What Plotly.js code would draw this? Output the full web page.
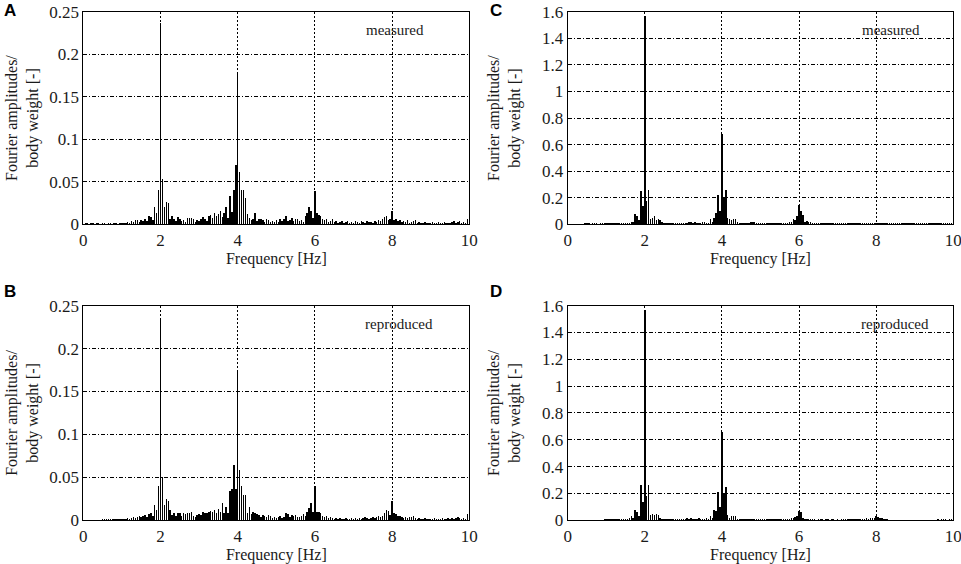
<!DOCTYPE html>
<html>
<head>
<meta charset="utf-8">
<script src="https://cdn.plot.ly/plotly-3.0.1.min.js"></script>
<style>html,body{margin:0;padding:0;background:#fff;}#chart{width:961px;height:564px;}</style>
</head>
<body>
<div id="chart"></div>
<script>
// Frequency bins: 0 .. 10 Hz, spacing FREQ_STEP (one value per bin, 201 bins)
const FREQ_STEP = 0.05;

// Panel A - measured (amplitude / body weight)
const measuredA = [
  0.001,0.002,0.002,0.001,0.002,0.002,0.001,0.002,0.002,0.001,0.002,0.002,0.001,0.002,0.002,0.001,0.002,0.002,0.001,0.002,
  0.002,0.002,0.002,0.003,0.002,0.004,0.003,0.005,0.005,0.003,0.005,0.004,0.007,0.004,0.010,0.009,0.005,0.020,0.013,0.041,
  0.237,0.053,0.020,0.026,0.025,0.007,0.010,0.006,0.004,0.009,0.007,0.004,0.005,0.003,0.008,0.008,0.008,0.006,0.003,0.005,
  0.004,0.007,0.009,0.006,0.004,0.010,0.011,0.008,0.013,0.010,0.012,0.016,0.009,0.013,0.021,0.008,0.034,0.015,0.041,0.070,
  0.177,0.062,0.041,0.040,0.031,0.012,0.008,0.005,0.007,0.013,0.004,0.007,0.006,0.005,0.003,0.006,0.005,0.003,0.004,0.003,
  0.005,0.003,0.006,0.004,0.006,0.010,0.004,0.005,0.008,0.004,0.007,0.007,0.004,0.005,0.003,0.010,0.014,0.021,0.016,0.008,
  0.039,0.013,0.011,0.010,0.006,0.005,0.006,0.003,0.004,0.006,0.003,0.004,0.002,0.003,0.004,0.002,0.003,0.004,0.002,0.003,
  0.002,0.004,0.003,0.002,0.004,0.003,0.002,0.004,0.003,0.003,0.002,0.004,0.003,0.005,0.004,0.006,0.009,0.010,0.005,0.006,
  0.016,0.005,0.006,0.004,0.005,0.003,0.004,0.003,0.005,0.002,0.003,0.004,0.005,0.002,0.003,0.002,0.002,0.003,0.002,0.002,
  0.002,0.003,0.002,0.002,0.003,0.002,0.002,0.003,0.002,0.002,0.002,0.003,0.004,0.002,0.003,0.004,0.002,0.003,0.002,0.007,
  0.005
];

// Panel B - reproduced
const reproducedB = [
  0,0,0,0,0,0,0,0,0,0,0.002,0.002,0.001,0.002,0.002,0.001,0.002,0.002,0.002,0.001,
  0.002,0.002,0.002,0.003,0.002,0.003,0.004,0.003,0.004,0.005,0.004,0.005,0.006,0.004,0.007,0.008,0.005,0.018,0.012,0.040,
  0.236,0.051,0.018,0.025,0.022,0.012,0.006,0.008,0.005,0.009,0.008,0.005,0.008,0.007,0.009,0.009,0.010,0.005,0.004,0.006,
  0.007,0.006,0.010,0.008,0.009,0.010,0.011,0.010,0.012,0.009,0.013,0.010,0.020,0.009,0.016,0.008,0.034,0.036,0.064,0.036,
  0.175,0.058,0.040,0.030,0.029,0.008,0.016,0.007,0.010,0.008,0.007,0.006,0.004,0.006,0.005,0.004,0.006,0.005,0.003,0.004,
  0.003,0.004,0.005,0.003,0.004,0.008,0.007,0.004,0.006,0.005,0.006,0.004,0.004,0.005,0.007,0.005,0.010,0.014,0.020,0.010,
  0.040,0.010,0.010,0.009,0.005,0.004,0.005,0.003,0.004,0.003,0.002,0.003,0.002,0.003,0.002,0.002,0.003,0.002,0.002,0.003,
  0.002,0.003,0.002,0.003,0.002,0.003,0.004,0.003,0.002,0.003,0.004,0.003,0.004,0.005,0.004,0.005,0.008,0.012,0.011,0.006,
  0.023,0.008,0.007,0.005,0.005,0.004,0.003,0.004,0.003,0.004,0.004,0.005,0.003,0.002,0.003,0.002,0.002,0.003,0.002,0.002,
  0.002,0.002,0.003,0.002,0.002,0.002,0.003,0.002,0.002,0.003,0.002,0.003,0.002,0.003,0.004,0.003,0.002,0.003,0.002,0.007,
  0.005
];

// Panel C - measured
const measuredC = [
  0,0,0,0,0,0,0,0,0,0.008,0.010,0.008,0.006,0.009,0.008,0.010,0.007,0.009,0.008,0.010,
  0.008,0.010,0.009,0.012,0.010,0.011,0.009,0.012,0.013,0.010,0.012,0.010,0.014,0.020,0.015,0.080,0.060,0.035,0.250,0.140,
  1.570,0.180,0.260,0.040,0.050,0.060,0.030,0.040,0.030,0.015,0.010,0.012,0.008,0.010,0.008,0.012,0.009,0.008,0.010,0.008,
  0.008,0.010,0.009,0.015,0.020,0.012,0.015,0.010,0.014,0.012,0.020,0.018,0.010,0.012,0.040,0.020,0.050,0.085,0.220,0.100,
  0.680,0.200,0.260,0.050,0.040,0.035,0.040,0.040,0.015,0.010,0.008,0.010,0.008,0.012,0.010,0.015,0.020,0.020,0.010,0.008,
  0.010,0.008,0.010,0.009,0.012,0.010,0.008,0.010,0.009,0.012,0.010,0.008,0.010,0.009,0.012,0.015,0.020,0.040,0.030,0.060,
  0.150,0.100,0.070,0.020,0.025,0.015,0.020,0.010,0.008,0.010,0.008,0.010,0.009,0.008,0.010,0.008,0.009,0.010,0.008,0.009,
  0.010,0.008,0.009,0.010,0.008,0.009,0.010,0.008,0.010,0.009,0.008,0.010,0.009,0.008,0.010,0.009,0.010,0.012,0.009,0.010,
  0.012,0.009,0.010,0.008,0.009,0.010,0.008,0.010,0.009,0.008,0.010,0.009,0.008,0.010,0.008,0.009,0.010,0.008,0.009,0.008,
  0.009,0.010,0.008,0.009,0.010,0.008,0.009,0.010,0.008,0.009,0.010,0.008,0.010,0.009,0.010,0.008,0.009,0.010,0.008,0.009,
  0.010
];

// Panel D - reproduced
const reproducedD = [
  0,0,0,0,0,0,0,0,0,0,0,0,0,0,0,0,0,0,0,0.008,
  0.008,0.010,0.008,0.009,0.010,0.008,0.010,0.009,0.010,0.012,0.010,0.012,0.015,0.030,0.020,0.080,0.060,0.030,0.260,0.140,
  1.570,0.180,0.260,0.040,0.050,0.040,0.050,0.040,0.020,0.010,0.008,0.010,0.008,0.009,0.008,0.010,0.008,0.009,0.008,0.008,
  0.008,0.010,0.015,0.012,0.015,0.010,0.008,0.010,0.015,0.010,0.012,0.010,0.020,0.012,0.030,0.020,0.080,0.070,0.210,0.100,
  0.660,0.200,0.250,0.040,0.020,0.030,0.030,0.030,0.010,0.008,0.009,0.008,0.010,0.008,0.012,0.010,0.008,0.009,0.008,0.007,
  0.008,0.006,0.008,0.007,0.010,0.008,0.009,0.008,0.010,0.007,0.008,0.009,0.010,0.008,0.012,0.010,0.020,0.015,0.025,0.030,
  0.070,0.060,0.020,0.010,0.008,0.006,0.008,0.006,0.007,0.005,0.006,0.008,0.006,0.005,0.007,0.006,0.005,0.006,0.007,0.005,
  0.006,0.005,0.007,0.006,0.008,0.006,0.007,0.008,0.006,0.008,0.007,0.008,0.010,0.009,0.012,0.015,0.012,0.015,0.020,0.018,
  0.035,0.025,0.020,0.015,0.010,0.008,0.006,0.005,0,0,0,0,0,0,0,0,0,0,0,0,
  0,0,0,0,0,0,0,0,0,0,0,0,0.006,0.005,0.006,0.008,0.006,0.005,0.008,0.006,
  0.008
];

const xTickVals = [0, 2, 4, 6, 8, 10];
const yTicksAB = [0, 0.05, 0.1, 0.15, 0.2, 0.25];
const yTicksCD = [0, 0.2, 0.4, 0.6, 0.8, 1, 1.2, 1.4, 1.6];
const panelLabels = ["A", "B", "C", "D"];
const panelNotes = ["measured", "reproduced", "measured", "reproduced"];
const xTitle = "Frequency [Hz]";
const yTitle = "Fourier amplitudes/<br>body weight [-]";

const serif = "Liberation Serif";
const txt = "#1a1a1a";

function bars(values, xa, ya) {
  return {
    type: "bar", x0: 0, dx: FREQ_STEP, y: values,
    xaxis: xa, yaxis: ya, width: 0.038,
    marker: {color: "#000", line: {width: 0}},
    hoverinfo: "x+y", showlegend: false
  };
}

function xAxis(domain, anchor) {
  return {
    domain: domain, anchor: anchor, range: [0, 10], tickvals: xTickVals,
    showgrid: true, gridcolor: "#000", gridwidth: 1, griddash: "2px,2px",
    showline: true, mirror: true, linecolor: "#000", linewidth: 1,
    zeroline: false, ticks: "", fixedrange: true, ticklabeloverflow: "allow",
    tickfont: {family: serif, size: 17, color: txt},
    title: {text: xTitle, font: {family: serif, size: 16, color: txt}, standoff: 2}
  };
}
function yAxis(domain, anchor, range, ticks, standoff) {
  return {
    domain: domain, anchor: anchor, range: range, tickvals: ticks,
    showgrid: true, gridcolor: "#000", gridwidth: 1, griddash: "4px,2px,1px,2px",
    showline: true, mirror: true, linecolor: "#000", linewidth: 1,
    zeroline: false, ticks: "", fixedrange: true, ticklabeloverflow: "allow",
    tickfont: {family: serif, size: 17, color: txt},
    title: {text: yTitle, font: {family: serif, size: 16, color: txt}, standoff: standoff}
  };
}

const xL = [0.0867, 0.4884], xR = [0.5907, 0.992];
const yT = [0.602, 0.9793], yB = [0.0775, 0.458];

const data = [
  bars(measuredA, "x", "y"),
  bars(measuredC, "x2", "y2"),
  bars(reproducedB, "x3", "y3"),
  bars(reproducedD, "x4", "y4")
];

function note(text, xa, ya, xpos) {
  return {text: text, xref: xa + " domain", yref: ya + " domain", x: xpos, y: 0.915,
    xanchor: "center", yanchor: "middle", showarrow: false,
    font: {family: serif, size: 15, color: txt}};
}
function letter(text, x, y) {
  return {text: "<b>" + text + "</b>", xref: "paper", yref: "paper", x: x, y: y,
    xanchor: "center", yanchor: "middle", showarrow: false,
    font: {family: "Liberation Sans", size: 17, color: "#000"}};
}

const layout = {
  width: 961, height: 564,
  margin: {l: 0, r: 0, t: 0, b: 0},
  paper_bgcolor: "#fff", plot_bgcolor: "#fff",
  bargap: 0, showlegend: false,
  xaxis: xAxis(xL, "y"), yaxis: yAxis(yT, "x", [0, 0.25], yTicksAB, 6),
  xaxis2: xAxis(xR, "y2"), yaxis2: yAxis(yT, "x2", [0, 1.6], yTicksCD, 17),
  xaxis3: xAxis(xL, "y3"), yaxis3: yAxis(yB, "x3", [0, 0.25], yTicksAB, 6),
  xaxis4: xAxis(xR, "y4"), yaxis4: yAxis(yB, "x4", [0, 1.6], yTicksCD, 17),
  annotations: [
    note(panelNotes[0], "x", "y", 0.807),
    note(panelNotes[1], "x3", "y3", 0.819),
    note(panelNotes[2], "x2", "y2", 0.838),
    note(panelNotes[3], "x4", "y4", 0.850),
    letter(panelLabels[0], 9.5 / 961, 1 - 11 / 564),
    letter(panelLabels[1], 9.5 / 961, 1 - 291 / 564),
    letter(panelLabels[2], 495.5 / 961, 1 - 11 / 564),
    letter(panelLabels[3], 495.5 / 961, 1 - 291 / 564)
  ]
};

Plotly.newPlot("chart", data, layout, {displayModeBar: false, staticPlot: true});
</script>
</body>
</html>
